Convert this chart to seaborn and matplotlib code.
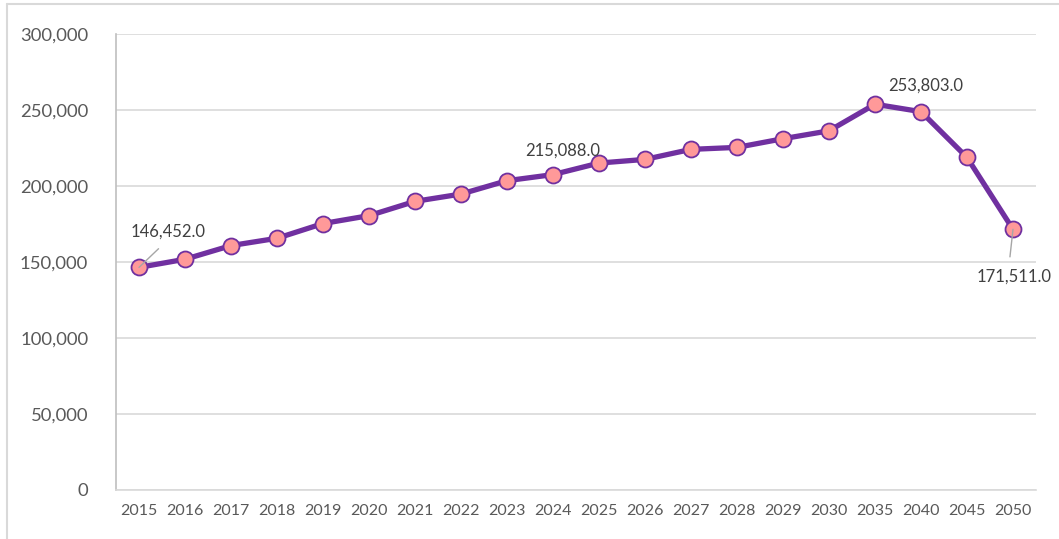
import matplotlib
matplotlib.use("Agg")
import matplotlib.pyplot as plt
from matplotlib.lines import Line2D
from matplotlib.ticker import FuncFormatter
import seaborn as sns
import pandas as pd

years = ["2015", "2016", "2017", "2018", "2019", "2020", "2021", "2022", "2023", "2024",
         "2025", "2026", "2027", "2028", "2029", "2030", "2035", "2040", "2045", "2050"]
values = [146452, 151800, 160800, 165600, 175300, 180500, 189900, 194700, 203500, 207500,
          215088, 217500, 224100, 225400, 231100, 236300, 253803, 248900, 218800, 171511]
labeled = {"2015": "146,452.0", "2025": "215,088.0", "2035": "253,803.0", "2050": "171,511.0"}

sns.set_theme(style="white")
plt.rcParams['font.family'] = ['Lato', 'DejaVu Sans']

df = pd.DataFrame({"year": years, "value": values})

fig = plt.figure(figsize=(10.59, 5.39), dpi=100)
ax = fig.add_axes([116/1059, 1 - 490/539, 920/1059, 456/539])

sns.lineplot(data=df, x="year", y="value", sort=False, ax=ax, color="#7030A0",
             linewidth=3.8, marker="o", markersize=11.5, markerfacecolor="#FF9999",
             markeredgecolor="#7030A0", markeredgewidth=1.3)

ax.set_xlim(-0.5, len(years) - 0.5)
ax.set_ylim(0, 300000)
ax.set_yticks(range(0, 300001, 50000))
ax.yaxis.set_major_formatter(FuncFormatter(lambda v, p: f"{int(v):,}"))
ax.grid(axis="y", color="#D9D9D9", linewidth=1.2)
ax.set_axisbelow(True)
ax.set_xlabel("")
ax.set_ylabel("")
for s in ["top", "right"]:
    ax.spines[s].set_visible(False)
ax.spines["left"].set_color("#BFBFBF")
ax.spines["left"].set_linewidth(1.2)
ax.spines["bottom"].set_color("#D9D9D9")
ax.spines["bottom"].set_linewidth(1.2)
ax.tick_params(axis="y", labelsize=13.3, colors="#595959", length=0, pad=20)
ax.tick_params(axis="x", labelsize=11.5, colors="#595959", length=0, pad=10)

idx = {y: i for i, y in enumerate(years)}
lab_kw = dict(fontsize=12, color="#404040")
# data labels
i = idx["2015"]
ax.annotate(labeled["2015"], xy=(i, values[i]), xytext=(i + 0.63, values[i] + 23500),
            ha="center", va="center", zorder=5, **lab_kw,
            arrowprops=dict(arrowstyle="-", color="#A6A6A6", lw=1, shrinkA=6, shrinkB=0,
                            relpos=(0.5, 0.0)))
i = idx["2025"]
ax.text(i - 0.8, values[i] + 8500, labeled["2025"], ha="center", va="center", **lab_kw)
i = idx["2035"]
ax.text(i + 1.1, values[i] + 12000, labeled["2035"], ha="center", va="center", **lab_kw)
i = idx["2050"]
ax.annotate(labeled["2050"], xy=(i, values[i]), xytext=(i + 0.02, values[i] - 31000),
            ha="center", va="center", zorder=5, **lab_kw,
            arrowprops=dict(arrowstyle="-", color="#A6A6A6", lw=1, shrinkA=6, shrinkB=0,
                            relpos=(0.43, 1.0)))

# outer chart border (partially visible)
fig.add_artist(Line2D([7/1059, 7/1059], [0, 1 - 4/539], color="#D9D9D9", lw=1.5,
                      transform=fig.transFigure))
fig.add_artist(Line2D([7/1059, 1], [1 - 4/539, 1 - 4/539], color="#D9D9D9", lw=1.5,
                      transform=fig.transFigure))

fig.savefig("out.png", dpi=100)
